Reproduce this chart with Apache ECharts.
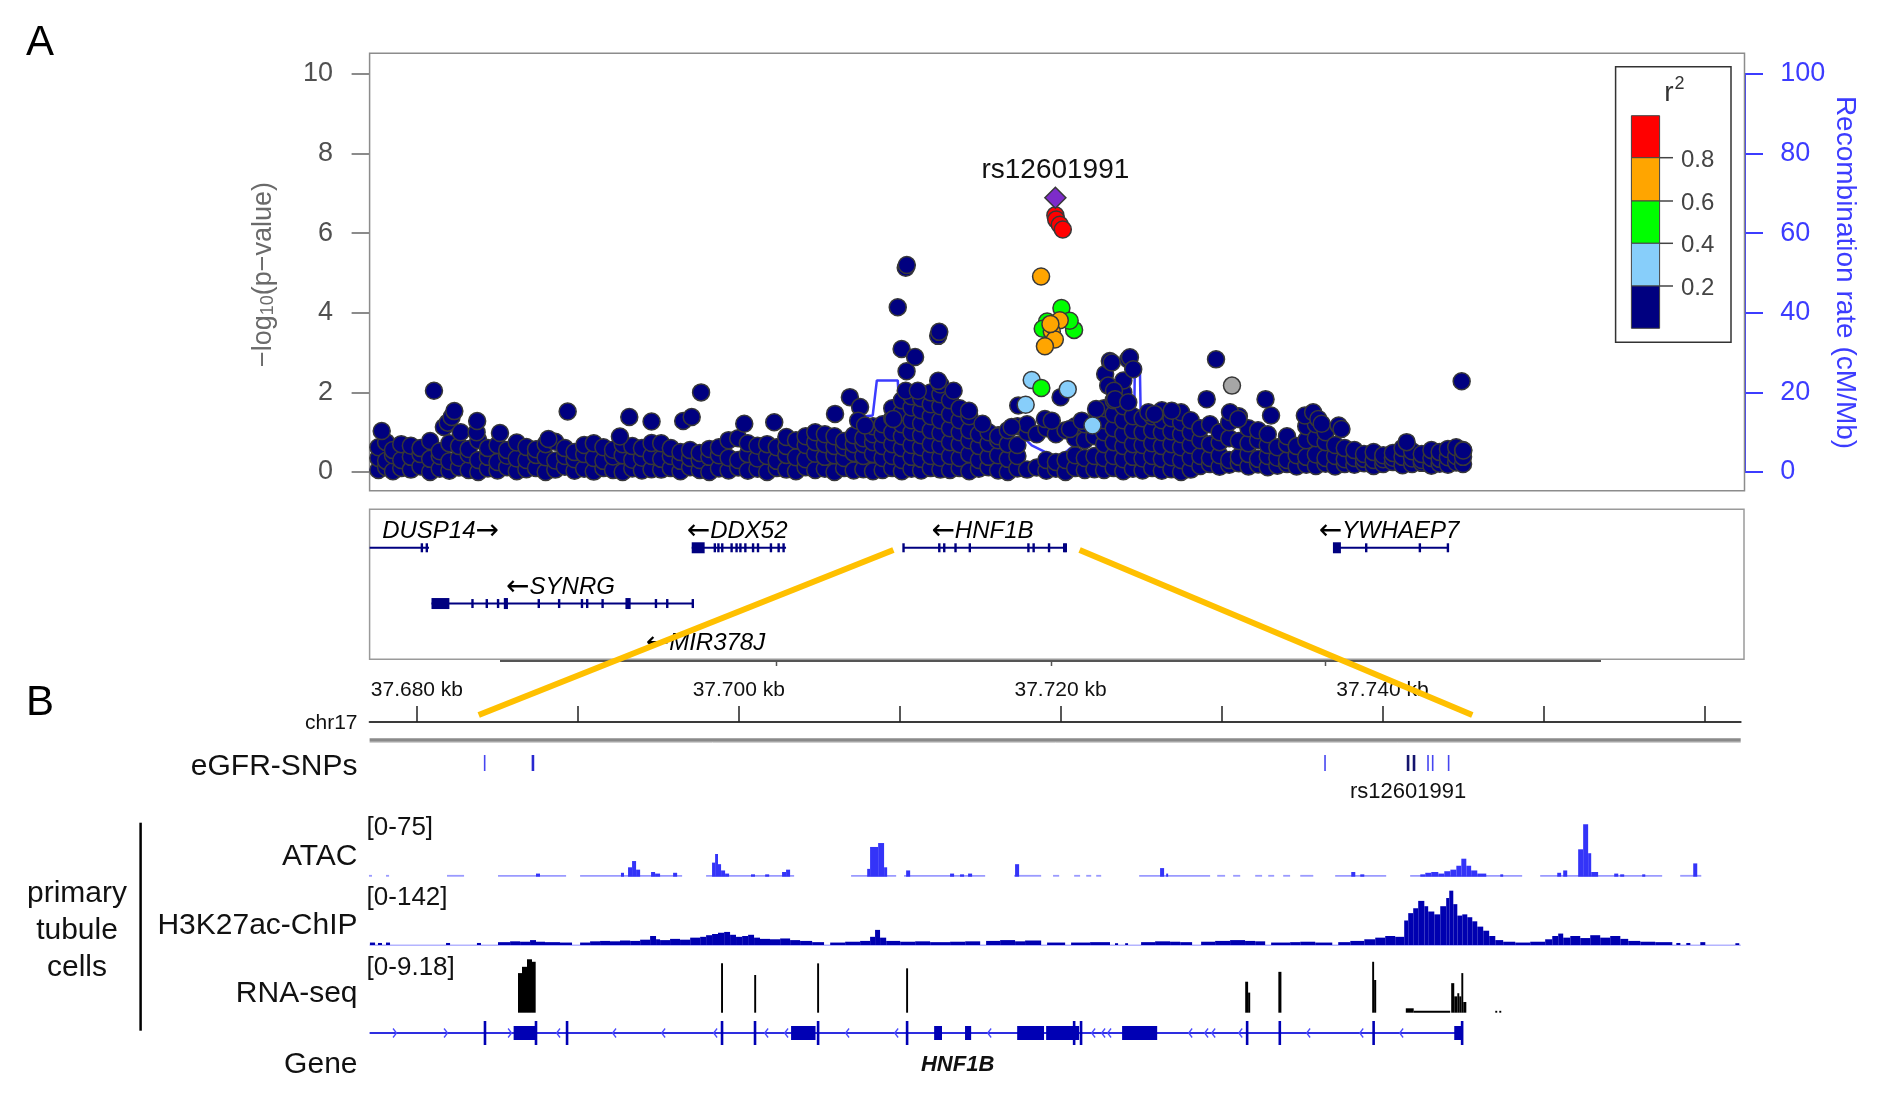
<!DOCTYPE html>
<html><head><meta charset="utf-8">
<script src="https://cdn.jsdelivr.net/npm/echarts@6/dist/echarts.min.js"></script>
<style>html,body{margin:0;padding:0;background:#fff}#c{width:1900px;height:1113px}</style>
</head><body><div id="c"></div>
<script>
// ===================== DATA =====================
// Panel A: positions in kb from the left edge of the 500 kb LocusZoom window, values = -log10(p)
const navyBandColumns = [
[3.2,.05,.35,.62],[6,.12,.28,.75],[8.5,.02,.42,.55],[11.5,.1,.3,.7],[15,.06,.38,.66],[18.5,.14,.45,.6],[22,.0,.33,.78],[25.5,.08,.4,.52],[29,.03,.27,.72],[32.5,.11,.36,.65],[36,.05,.44,.58],[39.5,.0,.3,.8],[43,.09,.38,.6],[46.5,.04,.25,.68],[50,.12,.41,.55],[53.5,.02,.34,.74],[57,.07,.3,.63],[60.5,.1,.43,.57],[64,.0,.37,.7],[67.5,.06,.29,.76],[71,.13,.4,.6],[74.5,.03,.32,.5],[78,.08,.45,.68],[81.5,.01,.35,.72],[85,.1,.28,.62],[88.5,.05,.39,.56],[92,.0,.42,.7],[95.5,.09,.31,.65],[99,.04,.36,.6],[102.5,.07,.4,.73],
[106,.06,.33,.72],[109.5,.1,.4,.6],[113,.02,.28,.5],[116.5,.12,.35,.55],[120,.05,.3,.48],[123.5,.0,.38,.58],[127,.09,.42,.62],[130.5,.04,.36,.8],[134,.11,.3,.85],[137.5,.03,.45,.72],[141,.08,.34,.66],[144.5,.0,.4,.7],[148,.1,.28,.62],[151.5,.06,.43,.65,.88],[155,.02,.37,.8],[158.5,.12,.32,.68,.9],[162,.05,.46,.75,1.0],[165.5,.08,.38,.7,.95],[169,.0,.42,.65,.9],[172.5,.1,.35,.62,.78],[176,.04,.48,.7,.92],[179.5,.07,.4,.7,.85],[183,.02,.45,.75,.95,1.15],
[186.5,.05,.35,.65,.95,1.2],[190,.1,.4,.7,1.0,1.35,1.6],[193.5,.02,.3,.6,.9,1.2,1.5,1.8],[197,.08,.38,.68,1.0,1.3,1.62,1.9],[200.5,.04,.33,.62,.92,1.22,1.55,1.85],[204,.1,.4,.7,1.05,1.4,1.7,2.0],[207.5,.06,.36,.66,.98,1.3,1.65,1.95,2.2],
[211,.05,.4,.75,1.1,1.45,1.8],[214.5,.1,.35,.7,1.0,1.3,1.6],[218,.02,.45,.8,1.05,1.4],[221.5,.08,.3,.65,.95],[225,.12,.38,.72,1.0],[228.5,.04,.42,.8,.9],[232,.0,.33,.7,1.05],[235.5,.09,.4,.68,1.15],[239,.06,1.0,1.2],[242.5,.11,.95],[246,.03,.3,1.1],[249.5,.08,.25,.95],[253,.0,.3,1.05],[256.5,.1,.42,.85,1.15],[260,.05,.35,.8,1.2],[263.5,.07,.4,.9,1.25],
[267,.05,.35,.7,1.0,1.3,1.6],[270.5,.1,.4,.75,1.1,1.45,1.8,2.1],[274,.02,.32,.65,.95,1.3,1.65,2.0,2.3],[277.5,.08,.38,.7,1.05,1.4],[281,.04,.34,.68,1.0,1.35],[284.5,.1,.4,.72,1.05,1.4],[288,.03,.33,.65,1.0,1.3,1.55],[291.5,.07,.37,.7,1.02,1.35],[295,.0,.3,.62,.95,1.25,1.5],[298.5,.06,.36,.68,1.0,1.3],
[302,.15,.4,.8,1.1],[305.5,.2,.35,.7,1.2],[309,.13,.42,.75,1.0],[312.5,.18,.3,.85,1.25],[316,.22,.38,.78,1.4],[319.5,.14,.45,.72,1.1],[323,.19,.33,.8,1.05],[326.5,.12,.4,.68,.95],[330,.16,.36,.62],[333.5,.2,.3,.7,.9],[337,.14,.42,.65],[340.5,.18,.38,.8,1.15],[344,.15,.44,.85,1.2],[347.5,.21,.35,.75,1.0],[351,.14,.4,.68],[354.5,.2,.32,.6],
[358,.18,.35,.55],[361.5,.22,.33,.45],[365,.15,.3,.5],[368.5,.2,.32,.42],[372,.25,.36,.48],[375.5,.17,.38,.6],[379,.2,.34,.52],[382.5,.23,.3,.45],[386,.16,.35,.55],[389,.21,.33,.5],[392,.18,.37,.58],[395,.24,.4,.62],[397.5,.2,.38,.55]
];
const navyHighSnps = [[4.4,1.03],[23.4,2.04],[27.0,1.13],[28.4,1.24],[29.8,1.38],[30.8,1.53],[33.1,1.0],[38.9,1.0],[39.1,1.28],[47.4,0.98],[65.0,0.83],[72.0,1.52],[91.0,0.89],[94.4,1.38],[102.5,1.27],[114.0,1.28],[117.1,1.38],[120.5,2.0],[136.2,1.21],[147.1,1.25],[169.2,1.46],[174.6,1.88],[178.3,1.63],[177.6,1.29],[180.1,1.17],[190.4,1.33],[192.0,4.14],[193.4,3.09],[194.9,5.13],[195.3,5.2],[194.9,2.04],[195.2,2.53],[198.3,2.89],[199.3,2.04],[206.7,2.29],[206.7,3.42],[207.1,3.52],[212.3,2.04],[217.9,1.54],[222.8,1.21],[235.8,1.67],[233.4,1.13],[245.5,1.33],[248.0,1.29],[251.2,1.88],[254.6,1.08],[258.9,1.29],[264.1,1.58],[267.4,2.46],[269.1,2.79],[269.8,2.75],[275.8,2.83],[276.4,2.88],[277.6,2.58],[268.5,2.17],[270.6,2.04],[271.0,1.83],[275.8,1.75],[283.1,1.5],[285.3,1.46],[291.6,1.54],[304.3,1.83],[307.7,2.83],[312.8,1.5],[315.8,1.33],[325.7,1.83],[327.7,1.42],[340.0,1.42],[343.0,1.5],[344.9,1.33],[346.1,1.21],[352.3,1.17],[353.3,1.08],[377.0,0.75],[397.0,2.28],[397.6,0.54]];
const greySnps = [[228.5,0.92],[313.5,2.17]];
const lightBlueSnps = [[240.7,2.31],[253.8,2.08],[238.5,1.69],[262.8,1.17]];
const greenSnps = [[251.5,4.12],[256.1,3.57],[246.3,3.78],[254.5,3.80],[244.7,3.60],[244.2,2.11]];
const orangeSnps = [[244.1,4.91],[250.9,3.81],[248.0,3.53],[249.1,3.33],[245.5,3.16],[247.5,3.72]];
const redSnps = [[249.3,6.45],[249.6,6.34],[250.9,6.21],[252.0,6.09]];
const leadSnp = [[249.3,6.89]];
const leadSnpName = 'rs12601991';
// recombination rate (cM/Mb)
const recombRate = [[0,0.6],[60,0.5],[120,0.8],[178,1.0],[180.4,14],[182.9,14.2],[184.4,23],[192,23],[193.5,4],[215,3],[229,3],[231.6,12.9],[240.7,6.7],[250.3,3.4],[255.2,6.25],[262,4],[277.8,4],[278.2,27],[280,27],[280.6,3],[300,2.5],[330,5],[355,3],[375,1.5],[400,1]];
const r2Labels = ['0.8','0.6','0.4','0.2'];

// genes of panel A (kb in window)
const geneNames = ['DUSP14','DDX52','HNF1B','SYNRG','MIR378J','YWHAEP7'];
const geneStrand = ['+','-','-','-','-','-'];
const geneStart = [0, 117.1, 194.1, 22.5, 122.0, 350.8];
const geneEnd = [21.6, 151.4, 253.1, 117.5, 122.0, 392.0];
const geneRow = [0, 0, 0, 1, 2, 0];
const geneLabelAt = [25.8, 133.6, 222.8, 69.4, 122.1, 370.6];
const geneExons = [
 [[19.0,19.6],[20.8,21.6]],
 [[117.1,121.8],[125.5,125.5],[126.8,126.8],[128.2,128.2],[131.6,131.6],[133.4,133.4],[134.8,134.8],[136.6,136.6],[139.4,139.4],[141.2,141.2],[145.9,145.9],[148.7,148.7],[150.5,150.5]],
 [[194.1,194.1],[207.1,207.1],[208.9,208.9],[213.0,213.0],[218.2,218.2],[239.5,239.5],[241.4,241.4],[247.0,247.0],[252.5,252.5],[253.1,253.1]],
 [[22.5,29.0],[37.4,37.4],[42.6,42.6],[46.7,47.4],[48.8,50.3],[61.5,61.5],[68.9,68.9],[77.2,77.2],[79.1,79.1],[84.7,84.7],[93.0,94.9],[104.1,104.1],[108.2,108.2],[117.5,117.5]],
 [],
 [[350.2,353.1],[362.3,362.3],[381.8,381.8],[392.0,392.0]]
];

// Panel B (chr17, kb)
const rulerTicks = [37680,37690,37700,37710,37720,37730,37740,37750,37760];
const rulerLabels = [37680,37700,37720,37740];
const egfrSnpPos = [37684.21,37687.21,37736.43,37741.59,37741.96,37742.83,37743.12,37744.11];
const atacSegs = [
[37677.02,37677.21,2],[37678.08,37678.27,2],[37681.87,37682.93,2],
[37685.04,37689.27,2],[37687.40,37687.65,4],
[37690.14,37696.48,2],[37692.68,37692.87,5],[37693.12,37693.37,12],[37693.37,37693.62,20],[37693.62,37693.87,9],[37694.55,37694.80,6],[37694.80,37695.11,4],[37695.92,37696.17,5],
[37697.97,37703.44,2],[37698.34,37698.53,18],[37698.53,37698.71,29],[37698.71,37698.90,16],[37698.90,37699.15,8],[37699.15,37699.40,4],[37700.76,37701.01,3],[37701.64,37701.89,3],[37702.69,37702.94,6],[37702.94,37703.19,9],
[37706.98,37709.78,2],[37707.98,37708.16,10],[37708.16,37708.66,38],[37708.66,37709.03,43],[37709.03,37709.22,12],
[37710.27,37715.31,2],[37710.40,37710.65,8],[37713.13,37713.38,4],[37713.75,37714.00,3],[37714.25,37714.50,4],
[37717.11,37718.79,2],[37717.17,37717.42,16],
[37719.53,37719.91,2],[37720.84,37721.21,2],[37721.59,37721.90,2],[37722.21,37722.52,2],
[37724.88,37729.29,2],[37726.18,37726.43,11],[37726.56,37726.68,4],
[37729.73,37730.22,2],[37730.72,37731.16,2],[37732.09,37732.52,2],[37732.90,37733.27,2],[37733.83,37734.26,2],[37734.89,37735.70,2],
[37737.06,37740.23,2],[37738.06,37738.31,6],[37738.62,37738.87,3],
[37741.72,37748.68,2],[37742.35,37742.66,3],[37742.66,37743.03,5],[37743.03,37743.47,6],[37743.47,37743.84,4],[37743.84,37744.22,7],[37744.22,37744.59,9],[37744.59,37744.90,14],[37744.90,37745.21,23],[37745.21,37745.51,14],[37745.51,37745.89,8],[37745.89,37746.45,4],[37747.32,37747.50,3],
[37749.80,37757.38,2],[37750.86,37751.10,5],[37751.23,37751.48,8],[37752.16,37752.47,35],[37752.47,37752.78,67],[37752.78,37752.97,30],[37752.97,37753.40,6],[37754.40,37754.65,4],[37754.77,37755.02,3],[37756.14,37756.33,3],
[37758.50,37759.81,2],[37759.31,37759.56,17]
];
const h3k27acSegs = [
[37677.08,37677.40,6],[37677.58,37677.83,5],[37678.08,37678.33,6],[37681.81,37682.06,5],[37683.73,37683.98,5],
[37685.04,37685.79,7],[37685.79,37686.41,9],[37686.41,37687.03,8],[37687.03,37687.40,12],[37687.40,37687.96,8],[37687.96,37688.89,7],[37688.89,37689.64,6],
[37690.14,37690.76,6],[37690.76,37691.38,9],[37691.38,37692.00,10],[37692.00,37692.62,9],
[37692.62,37693.25,11],[37693.25,37693.87,10],[37693.87,37694.49,13],[37694.49,37694.86,22],[37694.86,37695.11,14],
[37695.11,37695.73,12],[37695.73,37696.35,15],[37696.35,37696.98,13],[37696.98,37697.60,18],
[37697.60,37697.97,20],[37697.97,37698.34,24],[37698.34,37698.71,27],[37698.71,37699.09,30],[37699.09,37699.46,32],[37699.46,37699.83,25],
[37699.83,37700.21,20],[37700.21,37700.58,22],[37700.58,37700.95,25],[37700.95,37701.32,18],[37701.32,37701.94,15],
[37701.94,37702.57,14],[37702.57,37703.19,16],[37703.19,37703.81,12],[37703.81,37704.56,10],[37704.56,37705.30,7],
[37705.68,37706.61,6],[37706.61,37707.54,8],[37707.54,37708.16,10],[37708.16,37708.47,20],[37708.47,37708.78,37],[37708.78,37709.16,18],[37709.16,37710.03,10],[37710.03,37710.96,8],[37710.96,37711.89,9],[37711.89,37713.13,7],
[37713.13,37714.07,8],[37714.07,37715.00,9],[37715.37,37716.24,10],[37716.24,37717.17,12],[37717.17,37717.79,9],[37717.79,37718.79,11],
[37719.16,37720.28,6],[37720.65,37721.83,6],[37721.83,37723.07,7],[37723.38,37723.57,4],[37724.01,37724.19,4],
[37725.00,37725.87,7],[37725.87,37726.80,9],[37726.80,37727.43,8],[37727.43,37728.17,7],
[37728.73,37729.60,8],[37729.60,37730.53,10],[37730.53,37731.46,12],[37731.46,37732.09,10],[37732.09,37732.71,9],
[37733.08,37734.26,6],[37734.26,37734.89,7],[37734.89,37735.82,8],[37735.82,37736.88,6],
[37737.25,37738.00,7],[37738.00,37738.87,10],[37738.87,37739.55,14],[37739.55,37740.17,18],[37740.17,37740.79,22],[37740.79,37741.35,20],
[37741.35,37741.60,60],[37741.60,37741.91,78],[37741.91,37742.22,90],[37742.22,37742.60,108],[37742.60,37742.84,95],[37742.84,37743.22,82],[37743.22,37743.59,75],[37743.59,37743.96,95],[37743.96,37744.15,115],[37744.15,37744.40,133],[37744.40,37744.65,100],[37744.65,37744.96,72],[37744.96,37745.27,75],[37745.27,37745.58,68],[37745.58,37745.89,58],[37745.89,37746.26,45],[37746.26,37746.63,35],[37746.63,37747.01,22],[37747.01,37747.50,12],
[37747.50,37748.25,8],[37748.25,37749.18,6],[37749.18,37750.11,8],[37750.11,37750.55,14],
[37750.55,37750.92,22],[37750.92,37751.23,28],[37751.23,37751.67,18],[37751.67,37752.29,22],[37752.29,37752.91,17],[37752.91,37753.53,24],[37753.53,37754.15,18],[37754.15,37754.78,22],[37754.78,37755.27,15],
[37755.27,37756.02,10],[37756.02,37756.95,8],[37756.95,37758.01,7],
[37758.26,37758.51,5],[37758.88,37759.13,5],[37759.75,37760.06,7],[37761.93,37762.17,4]
];
const rnaSegs = [
[37686.28,37686.53,6.3],[37686.53,37686.84,7.3],[37686.84,37687.15,8.5],[37687.15,37687.38,8.1],
[37698.90,37699.02,7.85],[37700.96,37701.08,6.0],[37704.87,37704.99,7.85],[37710.40,37710.52,7.06],
[37731.47,37731.65,4.93],[37731.65,37731.78,3.2],[37733.53,37733.72,6.5],
[37739.36,37739.48,8.1],[37739.48,37739.61,5.2],
[37741.45,37741.94,0.7],[37741.94,37744.21,0.3],[37744.27,37744.46,4.7],[37744.46,37744.65,2.6],[37744.65,37744.77,3.1],[37744.77,37744.90,2.6],[37744.90,37745.02,6.3],[37745.02,37745.21,1.7],
[37747.01,37747.13,0.3],[37747.26,37747.38,0.3]
];
const geneBSpan = [37677.06, 37745.0];
const geneBBoxes = [[37686.01,37687.40],[37703.25,37704.77],[37712.14,37712.63],[37714.06,37714.44],[37717.30,37718.97],[37719.10,37721.15],[37723.82,37726.00],[37744.46,37744.95]];
const geneBExonTicks = [37684.23,37687.40,37689.33,37698.96,37701.01,37704.93,37710.46,37720.84,37721.27,37731.59,37733.62,37739.45,37744.95];
const geneBFwdMarks = [37678.64,37681.81,37685.79];
const geneBRevMarks = [37688.77,37692.25,37695.30,37698.53,37701.70,37702.94,37706.73,37709.78,37715.56,37722.02,37722.64,37723.01,37728.05,37729.04,37729.48,37731.16,37735.38,37738.68,37741.16];
const geneBName = 'HNF1B';
const geneBLabelAt = 37713.6;

// ===================== STYLE / BUILD =====================
const FONT = '"Liberation Sans", Arial, Helvetica, sans-serif';
const ARROWFONT = '"DejaVu Sans", "Liberation Sans", sans-serif';
const R2COL = ['#FF0000','#FFA500','#00FF00','#87CEFA','#000080'];
const BLUE = '#3c3cff';
const TY = 2.5; // text baseline nudge
const snpThick = [1,3,4], snpDark = [3,4], snpLeadIdx = 3;

const navyPts = [];
navyBandColumns.forEach(function(c){ for (let i=1;i<c.length;i++) navyPts.push([c[0], c[i]]); });
navyHighSnps.forEach(function(p){ navyPts.push(p); });

function scatterSeries(data, color, extra) {
  return Object.assign({
    type:'scatter', xAxisIndex:0, yAxisIndex:0, data:data, symbolSize:17, clip:false, z:3,
    progressive:0, silent:true,
    itemStyle:{color:color, borderColor:'#383838', borderWidth:1.5, opacity:1}
  }, extra || {});
}

function geneAItem(params, api) {
  const idx = params.dataIndex;
  const row = geneRow[idx];
  const p0 = api.coord([geneStart[idx], row]);
  const p1 = api.coord([geneEnd[idx], row]);
  const ch = [];
  if (p1[0] > p0[0]) ch.push({type:'line', shape:{x1:p0[0], y1:p0[1], x2:p1[0], y2:p1[1]}, style:{stroke:'#000080', lineWidth:2}});
  geneExons[idx].forEach(function(e){
    const a = api.coord([e[0], row]), b = api.coord([e[1], row]);
    const wide = (e[1]-e[0]) > 1;
    const w = Math.max(b[0]-a[0], 2.4);
    const h = wide ? 11 : 9;
    ch.push({type:'rect', shape:{x: wide ? a[0] : a[0]-1.2, y:a[1]-h/2, width:w, height:h}, style:{fill:'#000080'}});
  });
  const lp = api.coord([geneLabelAt[idx], row]);
  const t = geneStrand[idx] === '+' ? '{g|' + geneNames[idx] + '}{ar|\u2192}' : '{ar|\u2190}{g|' + geneNames[idx] + '}';
  ch.push({type:'text', x:lp[0], y:lp[1]-16, style:{text:t, align:'center', verticalAlign:'middle',
    rich:{g:{fontSize:24, fontStyle:'italic', fontFamily:FONT, fill:'#000'}, ar:{fontSize:28, fontFamily:ARROWFONT, fill:'#000'}}}});
  return {type:'group', children:ch};
}

function histItem(color, light) {
  return function(params, api) {
    const s = api.value(0), e = api.value(1), v = api.value(2);
    const a = api.coord([s, 0]), b = api.coord([e, v]);
    let h = a[1]-b[1]; if (h < 1.8) h = 1.8;
    const w = Math.max(b[0]-a[0], 1.6);
    return {type:'rect', shape:{x:a[0], y:a[1]-h, width:w, height:h}, style:{fill:(light && v <= 2) ? light : color}};
  };
}

function snpItem(params, api) {
  const i = params.dataIndex;
  const x = api.value(0);
  const top = api.coord([x, 1]), bot = api.coord([x, 0]);
  const w = snpThick.indexOf(i) >= 0 ? 2.6 : 1.6;
  const col = snpDark.indexOf(i) >= 0 ? '#14146e' : (snpThick.indexOf(i) >= 0 ? '#2828d0' : '#4646f0');
  const ch = [{type:'rect', shape:{x:top[0]-w/2, y:top[1], width:w, height:bot[1]-top[1]}, style:{fill:col}}];
  if (i === snpLeadIdx) ch.push({type:'text', x:top[0], y:bot[1]+18.3+TY, style:{text:leadSnpName, fontSize:22, fontFamily:FONT, fill:'#111', align:'center', verticalAlign:'middle'}});
  return {type:'group', children:ch};
}

const geneBItems = [[geneBSpan[0], geneBSpan[1], 0]];
geneBBoxes.forEach(function(b){ geneBItems.push([b[0], b[1], 1]); });
geneBExonTicks.forEach(function(x){ geneBItems.push([x, x, 2]); });
geneBFwdMarks.forEach(function(x){ geneBItems.push([x, x, 3]); });
geneBRevMarks.forEach(function(x){ geneBItems.push([x, x, 4]); });
geneBItems.push([geneBLabelAt, geneBLabelAt, 5]);

function geneBItem(params, api) {
  const s = api.value(0), e = api.value(1), k = api.value(2);
  const a = api.coord([s, 0.5]), b = api.coord([e, 0.5]);
  const y = a[1];
  if (k === 0) return {type:'line', shape:{x1:a[0], y1:y, x2:b[0], y2:y}, style:{stroke:'#2e2ee0', lineWidth:2}};
  if (k === 1) return {type:'rect', shape:{x:a[0], y:y-7, width:Math.max(b[0]-a[0], 2), height:14}, style:{fill:'#0000b4'}};
  if (k === 2) return {type:'rect', shape:{x:a[0]-1.3, y:y-12, width:2.6, height:24}, style:{fill:'#0000b4'}};
  if (k === 3 || k === 4) {
    const d = k === 3 ? 1 : -1;
    return {type:'polyline', shape:{points:[[a[0]-2*d, y-4.5],[a[0]+1.5*d, y],[a[0]-2*d, y+4.5]]}, style:{stroke:'#4a4aff', lineWidth:1.3, fill:null}};
  }
  return {type:'text', x:a[0], y:y+29.4+TY, style:{text:geneBName, fontSize:22, fontStyle:'italic', fontWeight:'bold', fontFamily:FONT, fill:'#111', align:'center', verticalAlign:'middle'}};
}

// ---------- graphic (frames, legend, labels) ----------
const G = [];
function T(x, y, text, size, o) {
  o = o || {};
  const st = {text:text, fontSize:size, fontFamily:FONT, fontStyle:o.italic?'italic':'normal', fontWeight:o.bold?'bold':'normal', fill:o.color||'#111', align:o.align||'left', verticalAlign:'middle'};
  if (o.rich) st.rich = o.rich;
  const dy = o.rot ? 0 : TY;
  G.push({type:'text', x:x, y:y+dy, rotation:o.rot||0, z:o.z||5, silent:true, style:st});
}
function L(x1, y1, x2, y2, color, w, z) {
  G.push({type:'line', silent:true, z:z||4, shape:{x1:x1, y1:y1, x2:x2, y2:y2}, style:{stroke:color, lineWidth:w}});
}
// Panel A
T(26, 41, 'A', 42, {color:'#000'});
G.push({type:'rect', silent:true, z:1, shape:{x:369.6, y:53.3, width:1374.9, height:437.4}, style:{fill:'none', stroke:'#8c8c8c', lineWidth:1.5}});
T(263.5, 274.5, '{a|\u2212log}{b|10}{a|(p\u2212value)}', 27, {rot:Math.PI/2, align:'center', color:'#6a6a6a',
  rich:{a:{fontSize:27, fontFamily:FONT, fill:'#6a6a6a', color:'#6a6a6a'}, b:{fontSize:18, fontFamily:FONT, fill:'#6a6a6a', color:'#6a6a6a', verticalAlign:'bottom', padding:[10,0,0,0]}}});
T(1845, 272.5, 'Recombination rate (cM/Mb)', 28, {rot:-Math.PI/2, align:'center', color:BLUE});
// legend
G.push({type:'rect', silent:true, z:4, shape:{x:1615.6, y:66.7, width:115.4, height:275.6}, style:{fill:'#fff', stroke:'#333', lineWidth:1.5}});
const lb = [115.7,157.7,201,243.3,286,328.3];
for (let i=0;i<5;i++) {
  G.push({type:'rect', silent:true, z:5, shape:{x:1631.4, y:lb[i], width:28.2, height:lb[i+1]-lb[i]}, style:{fill:R2COL[i], stroke:'#444', lineWidth:1}});
}
for (let i=0;i<4;i++) {
  L(1659.6, lb[i+1], 1673, lb[i+1], '#444', 1.5, 6);
  T(1681, lb[i+1], r2Labels[i], 24, {color:'#444'});
}
T(1669, 91, 'r', 28, {align:'center', color:'#333'});
T(1679.5, 82, '2', 18, {align:'center', color:'#333'});
// gene panel A frame + axis remnant
G.push({type:'rect', silent:true, z:1, shape:{x:369.6, y:509.3, width:1374.4, height:150}, style:{fill:'none', stroke:'#9a9a9a', lineWidth:1.5}});
L(500, 661, 1601, 661, '#555', 2, 2);
[776.5, 1051.5, 1325.5].forEach(function(x){ L(x, 661, x, 666, '#555', 1.5, 2); });
// Panel B
T(26, 701, 'B', 42, {color:'#000'});
T(357.5, 721, 'chr17', 21, {align:'right', color:'#111'});
G.push({type:'rect', silent:true, z:2, shape:{x:369.6, y:738.3, width:1371.1, height:3.4}, style:{fill:'#8a8a8a'}});
L(369.6, 742.5, 1740.7, 742.5, '#d0d0d0', 1, 2);
T(357.5, 764.3, 'eGFR-SNPs', 30, {align:'right'});
T(357.5, 854, 'ATAC', 30, {align:'right'});
T(357.5, 923.3, 'H3K27ac-ChIP', 30, {align:'right'});
T(357.5, 991.5, 'RNA-seq', 30, {align:'right'});
T(357.5, 1062.3, 'Gene', 30, {align:'right'});
T(366.6, 825.5, '[0-75]', 26, {});
T(366.6, 895, '[0-142]', 26, {});
T(366.6, 965.5, '[0-9.18]', 26, {});
T(77, 891.7, 'primary', 30, {align:'center'});
T(77, 928.3, 'tubule', 30, {align:'center'});
T(77, 965, 'cells', 30, {align:'center'});
L(140.6, 822.7, 140.6, 1030.7, '#000', 2.5, 4);
L(369.6, 945.2, 1740.7, 945.2, '#b4b4ff', 1.5, 1);
// zoom connectors
L(893.4, 550, 478.7, 715, '#FFC000', 6, 50);
L(1079.6, 550, 1472.3, 715, '#FFC000', 6, 50);

// ===================== CHART =====================
const BX = {min:37677.06, max:37762.26};
function hiddenX(g){ return {gridIndex:g, type:'value', min:BX.min, max:BX.max, show:false}; }
function hiddenY(g, mn, mx, inv){ return {gridIndex:g, type:'value', min:mn, max:mx, show:false, inverse:!!inv}; }

const option = {
  animation:false,
  backgroundColor:'#fff',
  textStyle:{fontFamily:FONT},
  grid:[
    {left:369.6, top:73.9, width:1375.4, height:398.1},
    {left:369.6, top:509.3, width:1375.4, height:150},
    {left:369.6, top:721, width:1371.1, height:1},
    {left:369.6, top:755, width:1371.1, height:16},
    {left:369.6, top:818, width:1371.1, height:58.7},
    {left:369.6, top:887, width:1371.1, height:58},
    {left:369.6, top:955, width:1371.1, height:57.7},
    {left:369.6, top:1018, width:1371.1, height:30}
  ],
  xAxis:[
    {gridIndex:0, type:'value', min:0, max:500, show:false},
    {gridIndex:1, type:'value', min:0, max:500, show:false},
    {gridIndex:2, type:'value', min:BX.min, max:BX.max, position:'top',
      axisLine:{show:true, lineStyle:{color:'#3a3a3a', width:2}},
      axisTick:{show:true, customValues:rulerTicks, length:16, inside:false, lineStyle:{color:'#222', width:1.5}},
      axisLabel:{show:true, customValues:rulerLabels, formatter:function(v){ return (v/1000).toFixed(3) + ' kb'; }, fontSize:21, color:'#111', margin:20.5, fontFamily:FONT},
      splitLine:{show:false}},
    hiddenX(3), hiddenX(4), hiddenX(5), hiddenX(6), hiddenX(7)
  ],
  yAxis:[
    {gridIndex:0, type:'value', min:0, max:10, interval:2, position:'left',
      axisLine:{show:false}, axisTick:{show:true, length:18, lineStyle:{color:'#666', width:1.5}},
      axisLabel:{color:'#505050', fontSize:27, margin:36.6, fontFamily:FONT}, splitLine:{show:false}},
    {gridIndex:0, type:'value', min:0, max:100, interval:20, position:'right',
      axisLine:{show:true, lineStyle:{color:BLUE, width:2}}, axisTick:{show:true, length:18, lineStyle:{color:BLUE, width:2}},
      axisLabel:{color:BLUE, fontSize:27, margin:35.3, fontFamily:FONT}, splitLine:{show:false}},
    hiddenY(1, -0.69, 2.0, true),
    hiddenY(2, 0, 1), hiddenY(3, 0, 1), hiddenY(4, 0, 75), hiddenY(5, 0, 142), hiddenY(6, 0, 9.18), hiddenY(7, 0, 1)
  ],
  series:[
    {type:'line', xAxisIndex:0, yAxisIndex:1, data:recombRate, showSymbol:false, symbol:'none', silent:true, z:2,
      lineStyle:{color:BLUE, width:2.5}},
    scatterSeries(greySnps, '#A6A6A6'),
    scatterSeries(navyPts, R2COL[4]),
    scatterSeries(lightBlueSnps, R2COL[3]),
    scatterSeries(greenSnps, R2COL[2]),
    scatterSeries(orangeSnps, R2COL[1]),
    scatterSeries(redSnps, R2COL[0]),
    scatterSeries(leadSnp, '#7D2BC9', {symbol:'diamond', symbolSize:[21,21], z:4,
      label:{show:true, position:'top', distance:2, formatter:leadSnpName, fontSize:28, color:'#111', fontFamily:FONT}}),
    {type:'custom', xAxisIndex:1, yAxisIndex:2, data:geneNames.map(function(n, i){ return [geneStart[i], geneEnd[i], geneRow[i]]; }),
      encode:{x:[0,1], y:2}, renderItem:geneAItem, silent:true, clip:false, z:3},
    {type:'custom', xAxisIndex:3, yAxisIndex:4, data:egfrSnpPos.map(function(p){ return [p]; }), encode:{x:0},
      renderItem:snpItem, silent:true, z:3},
    {type:'custom', xAxisIndex:4, yAxisIndex:5, data:atacSegs, encode:{x:[0,1], y:2}, renderItem:histItem('#3434f8', '#9a9aff'), silent:true, z:3},
    {type:'custom', xAxisIndex:5, yAxisIndex:6, data:h3k27acSegs, encode:{x:[0,1], y:2}, renderItem:histItem('#0000b0'), silent:true, z:3},
    {type:'custom', xAxisIndex:6, yAxisIndex:7, data:rnaSegs, encode:{x:[0,1], y:2}, renderItem:histItem('#000'), silent:true, z:3},
    {type:'custom', xAxisIndex:7, yAxisIndex:8, data:geneBItems, encode:{x:[0,1]}, renderItem:geneBItem, silent:true, z:3}
  ],
  graphic:G
};

const chart = echarts.init(document.getElementById('c'), null, {renderer:'canvas', width:1900, height:1113});
chart.setOption(option);
</script></body></html>
